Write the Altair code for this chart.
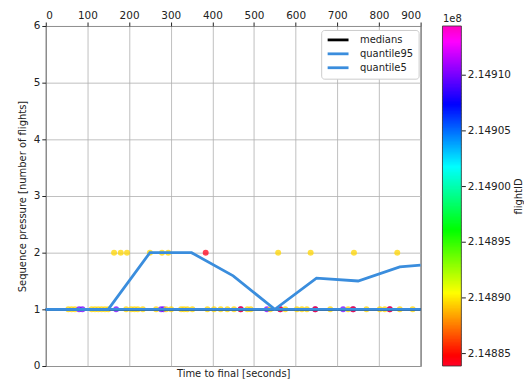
import numpy as np
import pandas as pd
import altair as alt

# ---- data ----
bin_time = [0, 150, 250, 350, 450, 550, 650, 750, 850, 900]
median_vals = [1, 1, 1, 1, 1, 1, 1, 1, 1, 1]
q95_vals = [1, 1, 2, 2, 1.59, 1, 1.55, 1.5, 1.75, 1.78]
q5_vals = [1, 1, 1, 1, 1, 1, 1, 1, 1, 1]

YEL = 214889500
PUR = 214910000
RED = 214884200

pt_time = [54, 62, 70, 80, 88, 110, 118, 126, 134, 142, 150, 169, 193, 205, 213, 221, 233,
           265, 277, 283, 289, 301, 325, 332, 340, 352, 388, 404, 420, 436, 452, 468, 468,
           484, 492, 531, 539, 563, 563, 575, 603, 615, 627, 647, 647, 683, 714, 726, 738, 738,
           770, 802, 814, 826, 826, 850, 881,
           164, 180, 195, 250, 279, 294, 384, 558, 636, 740, 844]
pt_pressure = [1] * 57 + [2] * 11
pt_flight = [YEL, YEL, YEL, PUR, PUR, YEL, YEL, YEL, YEL, YEL, YEL, PUR, YEL, YEL, YEL, YEL, YEL,
             YEL, PUR, PUR, YEL, YEL, YEL, YEL, YEL, YEL, YEL, YEL, YEL, YEL, YEL, PUR, RED,
             YEL, YEL, PUR, YEL, PUR, RED, YEL, YEL, YEL, YEL, PUR, RED, YEL, PUR, YEL, PUR, RED,
             YEL, YEL, YEL, PUR, RED, YEL, YEL,
             YEL, YEL, YEL, YEL, YEL, YEL, RED, YEL, YEL, YEL, YEL]

cb_lo, cb_hi = 214883840, 214914370
cb_ticks = [214885000, 214890000, 214895000, 214900000, 214905000, 214910000]

# gist_rainbow colormap stops (style)
cm_fracs = [0.0, 0.03, 0.215, 0.4, 0.586, 0.77, 0.954, 1.0]
cm_colors = ["#ff0029", "#ff0000", "#ffff00", "#00ff00", "#00ffff", "#0000ff", "#ff00ff", "#ff00bf"]
cm_domain = [cb_lo + f * (cb_hi - cb_lo) for f in cm_fracs]

BLUE = "#3a8ddd"
series_names = ["medians", "quantile95", "quantile5"]

lines_df = pd.DataFrame({
    "t": bin_time * 3,
    "v": median_vals + q95_vals + q5_vals,
    "series": ["medians"] * len(bin_time) + ["quantile95"] * len(bin_time) + ["quantile5"] * len(bin_time),
})
pts_df = pd.DataFrame({"t": pt_time, "v": pt_pressure, "fid": pt_flight})

edges = np.linspace(cb_lo, cb_hi, 241)
step = edges[1] - edges[0]
cb_df = pd.DataFrame({"lo": edges[:-1], "hi": np.minimum(edges[1:] + 0.6 * step, cb_hi),
                      "mid": (edges[:-1] + edges[1:]) / 2})
frame_df = pd.DataFrame({"lo": [cb_lo], "hi": [cb_hi]})

W, H = 377, 342
xscale = alt.Scale(domain=[0, 900], nice=False, zero=False)
yscale = alt.Scale(domain=[0, 6], nice=False, zero=True)
fillscale = alt.Scale(domain=cm_domain, range=cm_colors, interpolate="rgb")
strokescale = alt.Scale(domain=series_names, range=["#000000", BLUE, BLUE])
cbscale = alt.Scale(domain=[cb_lo, cb_hi], nice=False, zero=False)

points = alt.Chart(pts_df).mark_circle(size=36, opacity=0.75, strokeWidth=0).encode(
    x=alt.X("t:Q", scale=xscale,
            axis=alt.Axis(orient="top", values=list(range(0, 901, 100)), title=None, grid=True,
                          tickSize=4, labelPadding=2, domain=False, labelFontSize=10.5)),
    y=alt.Y("v:Q", scale=yscale,
            axis=alt.Axis(orient="left", values=list(range(0, 7)), grid=True, tickSize=4,
                          labelPadding=2, domain=False, labelFontSize=10.5,
                          title="Sequence pressure [number of flights]", titleFontSize=10,
                          titleFontWeight="normal", titlePadding=6)),
    fill=alt.Fill("fid:Q", scale=fillscale, legend=None),
)

def line_layer(name, with_axis=False):
    xa = alt.Axis(orient="bottom", labels=False, ticks=False, grid=False, domain=False,
                  title="Time to final [seconds]", titleFontSize=10, titleFontWeight="normal",
                  titlePadding=3) if with_axis else None
    return alt.Chart(lines_df).transform_filter(alt.datum.series == name).mark_line(strokeWidth=2.8).encode(
        x=alt.X("t:Q", scale=xscale, axis=xa),
        y=alt.Y("v:Q", scale=yscale, axis=None),
        stroke=alt.Stroke("series:N", scale=strokescale, sort=series_names,
                          legend=alt.Legend(title=None, orient="none", legendX=277, legendY=4,
                                            symbolType="M-1,0H5", symbolSize=49, symbolStrokeWidth=2.8,
                                            labelFontSize=10, fillColor="white", strokeColor="#cccccc",
                                            cornerRadius=3, padding=5, rowPadding=2, labelOffset=24)),
    )

cbar = alt.Chart(cb_df).mark_rect(strokeWidth=0).encode(
    x=alt.value(399), x2=alt.value(418),
    y=alt.Y("lo:Q", scale=cbscale,
            axis=alt.Axis(orient="right", offset=41, values=cb_ticks, grid=False, domain=False,
                          tickSize=4, labelPadding=2, labelFontSize=10.5,
                          labelExpr="format(datum.value / 1e8, '.5f')",
                          title="flightID", titleAngle=270, titleBaseline="top", titleFontSize=10,
                          titleFontWeight="normal", titlePadding=3)),
    y2="hi:Q",
    fill=alt.Fill("mid:Q", scale=fillscale, legend=None),
)
cframe = alt.Chart(frame_df).mark_rect(fillOpacity=0, stroke="#333333", strokeWidth=0.8).encode(
    x=alt.value(399), x2=alt.value(418),
    y=alt.Y("lo:Q", scale=cbscale, axis=None), y2="hi:Q",
)
cbtxt = alt.Chart(pd.DataFrame({"s": ["1e8"]})).mark_text(fontSize=10, baseline="bottom").encode(
    text="s:N", x=alt.value(409), y=alt.value(-2),
)

chart = alt.layer(
    points, line_layer("medians", True), line_layer("quantile95"), line_layer("quantile5"),
    cbar, cframe, cbtxt
).resolve_scale(y="independent").resolve_axis(x="independent", y="independent").properties(
    width=W, height=H, padding={"left": 9, "top": 1, "right": 0, "bottom": 5}
).configure_view(stroke="#222222", strokeWidth=1).configure_axis(
    labelFont="DejaVu Sans", titleFont="DejaVu Sans", labelColor="#222222", titleColor="#222222",
    tickColor="#222222", gridColor="#b0b0b0", gridWidth=0.8
).configure_legend(labelFont="DejaVu Sans", labelColor="#222222").configure_text(font="DejaVu Sans", color="#222222")

chart.save("out.html", embed_options={"renderer": "svg", "actions": False})
